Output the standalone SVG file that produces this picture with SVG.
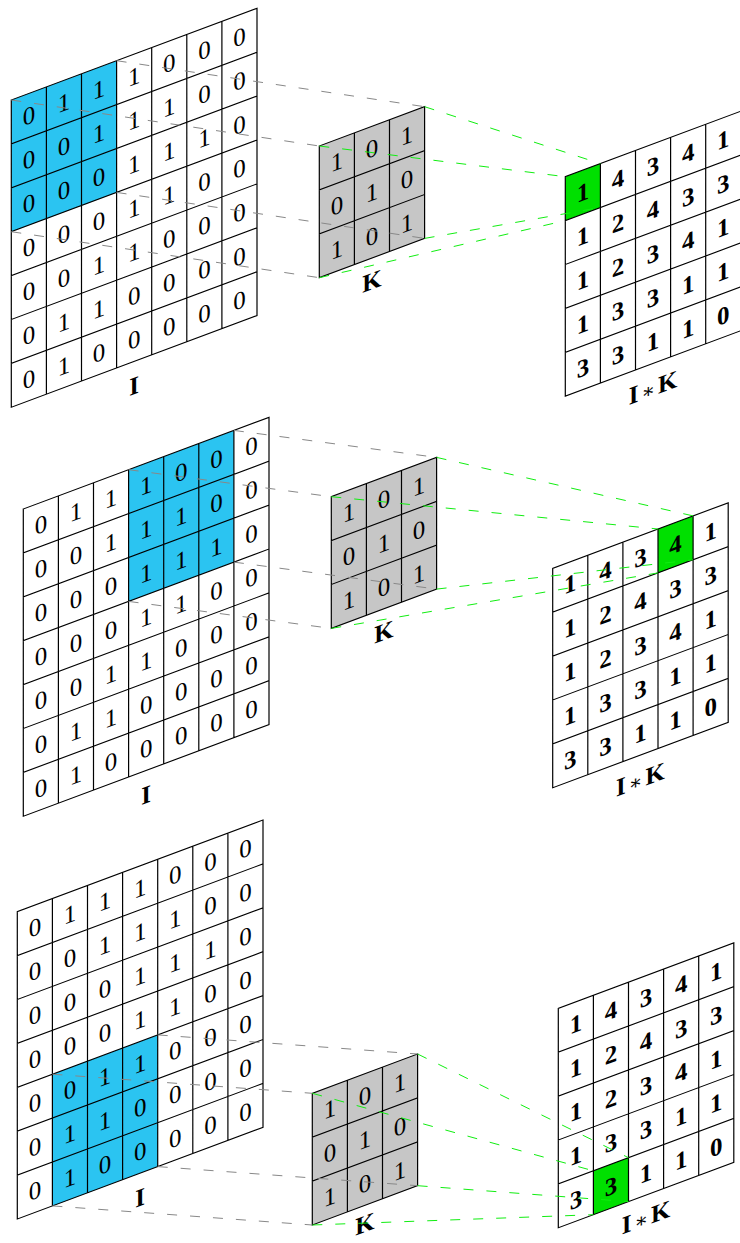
<svg xmlns="http://www.w3.org/2000/svg" xmlns:xlink="http://www.w3.org/1999/xlink" width="740" height="1243" viewBox="0 0 740 1243">
<style>
.w{fill:#ffffff}
.b{fill:#2bc4f1}
.k{fill:#c6c6c6}
.gr{fill:#00e000}
.ln{fill:none;stroke:#000;stroke-width:1.2}
text{font-family:"Liberation Serif","DejaVu Serif",serif;font-size:25px;text-anchor:middle;fill:#000}
.o{font-weight:bold}
.lbl{font-weight:bold;font-size:25px}
.op{font-weight:normal;font-size:20px}
.dg{stroke:#888888;stroke-width:1;stroke-dasharray:10 13;fill:none}
.dn{stroke:#11ee11;stroke-width:1;stroke-dasharray:10 13;fill:none}
</style>
<defs>
<path id="g7" class="ln" d="M0,0H245.7V307.3H0Z M35.1,0V307.3 M70.2,0V307.3 M105.3,0V307.3 M140.4,0V307.3 M175.5,0V307.3 M210.6,0V307.3 M0,43.9H245.7 M0,87.8H245.7 M0,131.7H245.7 M0,175.6H245.7 M0,219.5H245.7 M0,263.4H245.7"/>
<path id="g3" class="ln" d="M0,0H105.3V131.7H0Z M35.1,0V131.7 M70.2,0V131.7 M0,43.9H105.3 M0,87.8H105.3"/>
<path id="g5" class="ln" d="M0,0H175.5V219.5H0Z M35.1,0V219.5 M70.2,0V219.5 M105.3,0V219.5 M140.4,0V219.5 M0,43.9H175.5 M0,87.8H175.5 M0,131.7H175.5 M0,175.6H175.5"/>
</defs>

<!-- Panel 1 -->
<g id="I1" transform="translate(11.3,100) skewY(-20.47)">
<rect class="w" width="245.7" height="307.3"/>
<rect class="b" x="0" y="0" width="105.3" height="131.7"/>
<use href="#g7"/>
<text x="17.6" y="30.5">0</text><text x="52.7" y="30.5">1</text><text x="87.8" y="30.5">1</text><text x="122.9" y="30.5">1</text><text x="158" y="30.5">0</text><text x="193.1" y="30.5">0</text><text x="228.2" y="30.5">0</text>
<text x="17.6" y="74.4">0</text><text x="52.7" y="74.4">0</text><text x="87.8" y="74.4">1</text><text x="122.9" y="74.4">1</text><text x="158" y="74.4">1</text><text x="193.1" y="74.4">0</text><text x="228.2" y="74.4">0</text>
<text x="17.6" y="118.3">0</text><text x="52.7" y="118.3">0</text><text x="87.8" y="118.3">0</text><text x="122.9" y="118.3">1</text><text x="158" y="118.3">1</text><text x="193.1" y="118.3">1</text><text x="228.2" y="118.3">0</text>
<text x="17.6" y="162.2">0</text><text x="52.7" y="162.2">0</text><text x="87.8" y="162.2">0</text><text x="122.9" y="162.2">1</text><text x="158" y="162.2">1</text><text x="193.1" y="162.2">0</text><text x="228.2" y="162.2">0</text>
<text x="17.6" y="206.1">0</text><text x="52.7" y="206.1">0</text><text x="87.8" y="206.1">1</text><text x="122.9" y="206.1">1</text><text x="158" y="206.1">0</text><text x="193.1" y="206.1">0</text><text x="228.2" y="206.1">0</text>
<text x="17.6" y="250">0</text><text x="52.7" y="250">1</text><text x="87.8" y="250">1</text><text x="122.9" y="250">0</text><text x="158" y="250">0</text><text x="193.1" y="250">0</text><text x="228.2" y="250">0</text>
<text x="17.6" y="293.9">0</text><text x="52.7" y="293.9">1</text><text x="87.8" y="293.9">0</text><text x="122.9" y="293.9">0</text><text x="158" y="293.9">0</text><text x="193.1" y="293.9">0</text><text x="228.2" y="293.9">0</text>
<text class="lbl" x="122.9" y="340">I</text>
</g>

<g id="K1" transform="translate(319.3,146) skewY(-20.47)">
<rect class="k" width="105.3" height="131.7"/>
<use href="#g3"/>
<text x="17.6" y="30.5">1</text><text x="52.7" y="30.5">0</text><text x="87.8" y="30.5">1</text>
<text x="17.6" y="74.4">0</text><text x="52.7" y="74.4">1</text><text x="87.8" y="74.4">0</text>
<text x="17.6" y="118.3">1</text><text x="52.7" y="118.3">0</text><text x="87.8" y="118.3">1</text>
<text class="lbl" x="52.7" y="163">K</text>
</g>

<g id="O1" transform="translate(565.3,176.7) skewY(-20.47)">
<rect class="w" width="175.5" height="219.5"/>
<rect class="gr" x="0" y="0" width="35.1" height="43.9"/>
<use href="#g5"/>
<text class="o" x="17.6" y="30.5">1</text><text class="o" x="52.7" y="30.5">4</text><text class="o" x="87.8" y="30.5">3</text><text class="o" x="122.9" y="30.5">4</text><text class="o" x="158" y="30.5">1</text>
<text class="o" x="17.6" y="74.4">1</text><text class="o" x="52.7" y="74.4">2</text><text class="o" x="87.8" y="74.4">4</text><text class="o" x="122.9" y="74.4">3</text><text class="o" x="158" y="74.4">3</text>
<text class="o" x="17.6" y="118.3">1</text><text class="o" x="52.7" y="118.3">2</text><text class="o" x="87.8" y="118.3">3</text><text class="o" x="122.9" y="118.3">4</text><text class="o" x="158" y="118.3">1</text>
<text class="o" x="17.6" y="162.2">1</text><text class="o" x="52.7" y="162.2">3</text><text class="o" x="87.8" y="162.2">3</text><text class="o" x="122.9" y="162.2">1</text><text class="o" x="158" y="162.2">1</text>
<text class="o" x="17.6" y="206.1">3</text><text class="o" x="52.7" y="206.1">3</text><text class="o" x="87.8" y="206.1">1</text><text class="o" x="122.9" y="206.1">1</text><text class="o" x="158" y="206.1">0</text>
<text class="lbl" x="87.8" y="252">I<tspan class="op" dx="3">∗</tspan><tspan dx="3">K</tspan></text>
</g>

<!-- Panel 2 -->
<g id="I2" transform="translate(23.3,509) skewY(-20.47)">
<rect class="w" width="245.7" height="307.3"/>
<rect class="b" x="105.3" y="0" width="105.3" height="131.7"/>
<use href="#g7"/>
<text x="17.6" y="30.5">0</text><text x="52.7" y="30.5">1</text><text x="87.8" y="30.5">1</text><text x="122.9" y="30.5">1</text><text x="158" y="30.5">0</text><text x="193.1" y="30.5">0</text><text x="228.2" y="30.5">0</text>
<text x="17.6" y="74.4">0</text><text x="52.7" y="74.4">0</text><text x="87.8" y="74.4">1</text><text x="122.9" y="74.4">1</text><text x="158" y="74.4">1</text><text x="193.1" y="74.4">0</text><text x="228.2" y="74.4">0</text>
<text x="17.6" y="118.3">0</text><text x="52.7" y="118.3">0</text><text x="87.8" y="118.3">0</text><text x="122.9" y="118.3">1</text><text x="158" y="118.3">1</text><text x="193.1" y="118.3">1</text><text x="228.2" y="118.3">0</text>
<text x="17.6" y="162.2">0</text><text x="52.7" y="162.2">0</text><text x="87.8" y="162.2">0</text><text x="122.9" y="162.2">1</text><text x="158" y="162.2">1</text><text x="193.1" y="162.2">0</text><text x="228.2" y="162.2">0</text>
<text x="17.6" y="206.1">0</text><text x="52.7" y="206.1">0</text><text x="87.8" y="206.1">1</text><text x="122.9" y="206.1">1</text><text x="158" y="206.1">0</text><text x="193.1" y="206.1">0</text><text x="228.2" y="206.1">0</text>
<text x="17.6" y="250">0</text><text x="52.7" y="250">1</text><text x="87.8" y="250">1</text><text x="122.9" y="250">0</text><text x="158" y="250">0</text><text x="193.1" y="250">0</text><text x="228.2" y="250">0</text>
<text x="17.6" y="293.9">0</text><text x="52.7" y="293.9">1</text><text x="87.8" y="293.9">0</text><text x="122.9" y="293.9">0</text><text x="158" y="293.9">0</text><text x="193.1" y="293.9">0</text><text x="228.2" y="293.9">0</text>
<text class="lbl" x="122.9" y="340">I</text>
</g>

<g id="K2" transform="translate(331.3,496.7) skewY(-20.47)">
<rect class="k" width="105.3" height="131.7"/>
<use href="#g3"/>
<text x="17.6" y="30.5">1</text><text x="52.7" y="30.5">0</text><text x="87.8" y="30.5">1</text>
<text x="17.6" y="74.4">0</text><text x="52.7" y="74.4">1</text><text x="87.8" y="74.4">0</text>
<text x="17.6" y="118.3">1</text><text x="52.7" y="118.3">0</text><text x="87.8" y="118.3">1</text>
<text class="lbl" x="52.7" y="163">K</text>
</g>

<g id="O2" transform="translate(552.7,568.3) skewY(-20.47)">
<rect class="w" width="175.5" height="219.5"/>
<rect class="gr" x="105.3" y="0" width="35.1" height="43.9"/>
<use href="#g5"/>
<text class="o" x="17.6" y="30.5">1</text><text class="o" x="52.7" y="30.5">4</text><text class="o" x="87.8" y="30.5">3</text><text class="o" x="122.9" y="30.5">4</text><text class="o" x="158" y="30.5">1</text>
<text class="o" x="17.6" y="74.4">1</text><text class="o" x="52.7" y="74.4">2</text><text class="o" x="87.8" y="74.4">4</text><text class="o" x="122.9" y="74.4">3</text><text class="o" x="158" y="74.4">3</text>
<text class="o" x="17.6" y="118.3">1</text><text class="o" x="52.7" y="118.3">2</text><text class="o" x="87.8" y="118.3">3</text><text class="o" x="122.9" y="118.3">4</text><text class="o" x="158" y="118.3">1</text>
<text class="o" x="17.6" y="162.2">1</text><text class="o" x="52.7" y="162.2">3</text><text class="o" x="87.8" y="162.2">3</text><text class="o" x="122.9" y="162.2">1</text><text class="o" x="158" y="162.2">1</text>
<text class="o" x="17.6" y="206.1">3</text><text class="o" x="52.7" y="206.1">3</text><text class="o" x="87.8" y="206.1">1</text><text class="o" x="122.9" y="206.1">1</text><text class="o" x="158" y="206.1">0</text>
<text class="lbl" x="87.8" y="252">I<tspan class="op" dx="3">∗</tspan><tspan dx="3">K</tspan></text>
</g>

<!-- Panel 3 -->
<g id="I3" transform="translate(17.3,911.7) skewY(-20.47)">
<rect class="w" width="245.7" height="307.3"/>
<rect class="b" x="35.1" y="175.6" width="105.3" height="131.7"/>
<use href="#g7"/>
<text x="17.6" y="30.5">0</text><text x="52.7" y="30.5">1</text><text x="87.8" y="30.5">1</text><text x="122.9" y="30.5">1</text><text x="158" y="30.5">0</text><text x="193.1" y="30.5">0</text><text x="228.2" y="30.5">0</text>
<text x="17.6" y="74.4">0</text><text x="52.7" y="74.4">0</text><text x="87.8" y="74.4">1</text><text x="122.9" y="74.4">1</text><text x="158" y="74.4">1</text><text x="193.1" y="74.4">0</text><text x="228.2" y="74.4">0</text>
<text x="17.6" y="118.3">0</text><text x="52.7" y="118.3">0</text><text x="87.8" y="118.3">0</text><text x="122.9" y="118.3">1</text><text x="158" y="118.3">1</text><text x="193.1" y="118.3">1</text><text x="228.2" y="118.3">0</text>
<text x="17.6" y="162.2">0</text><text x="52.7" y="162.2">0</text><text x="87.8" y="162.2">0</text><text x="122.9" y="162.2">1</text><text x="158" y="162.2">1</text><text x="193.1" y="162.2">0</text><text x="228.2" y="162.2">0</text>
<text x="17.6" y="206.1">0</text><text x="52.7" y="206.1">0</text><text x="87.8" y="206.1">1</text><text x="122.9" y="206.1">1</text><text x="158" y="206.1">0</text><text x="193.1" y="206.1">0</text><text x="228.2" y="206.1">0</text>
<text x="17.6" y="250">0</text><text x="52.7" y="250">1</text><text x="87.8" y="250">1</text><text x="122.9" y="250">0</text><text x="158" y="250">0</text><text x="193.1" y="250">0</text><text x="228.2" y="250">0</text>
<text x="17.6" y="293.9">0</text><text x="52.7" y="293.9">1</text><text x="87.8" y="293.9">0</text><text x="122.9" y="293.9">0</text><text x="158" y="293.9">0</text><text x="193.1" y="293.9">0</text><text x="228.2" y="293.9">0</text>
<text class="lbl" x="122.9" y="340">I</text>
</g>

<g id="K3" transform="translate(312.3,1093.3) skewY(-20.47)">
<rect class="k" width="105.3" height="131.7"/>
<use href="#g3"/>
<text x="17.6" y="30.5">1</text><text x="52.7" y="30.5">0</text><text x="87.8" y="30.5">1</text>
<text x="17.6" y="74.4">0</text><text x="52.7" y="74.4">1</text><text x="87.8" y="74.4">0</text>
<text x="17.6" y="118.3">1</text><text x="52.7" y="118.3">0</text><text x="87.8" y="118.3">1</text>
<text class="lbl" x="52.7" y="158.5">K</text>
</g>

<g id="O3" transform="translate(558.3,1008.3) skewY(-20.47)">
<rect class="w" width="175.5" height="219.5"/>
<rect class="gr" x="35.1" y="175.6" width="35.1" height="43.9"/>
<use href="#g5"/>
<text class="o" x="17.6" y="30.5">1</text><text class="o" x="52.7" y="30.5">4</text><text class="o" x="87.8" y="30.5">3</text><text class="o" x="122.9" y="30.5">4</text><text class="o" x="158" y="30.5">1</text>
<text class="o" x="17.6" y="74.4">1</text><text class="o" x="52.7" y="74.4">2</text><text class="o" x="87.8" y="74.4">4</text><text class="o" x="122.9" y="74.4">3</text><text class="o" x="158" y="74.4">3</text>
<text class="o" x="17.6" y="118.3">1</text><text class="o" x="52.7" y="118.3">2</text><text class="o" x="87.8" y="118.3">3</text><text class="o" x="122.9" y="118.3">4</text><text class="o" x="158" y="118.3">1</text>
<text class="o" x="17.6" y="162.2">1</text><text class="o" x="52.7" y="162.2">3</text><text class="o" x="87.8" y="162.2">3</text><text class="o" x="122.9" y="162.2">1</text><text class="o" x="158" y="162.2">1</text>
<text class="o" x="17.6" y="206.1">3</text><text class="o" x="52.7" y="206.1">3</text><text class="o" x="87.8" y="206.1">1</text><text class="o" x="122.9" y="206.1">1</text><text class="o" x="158" y="206.1">0</text>
<text class="lbl" x="87.8" y="250">I<tspan class="op" dx="3">∗</tspan><tspan dx="3">K</tspan></text>
</g>

<g id="connectors">
<line class="dg" x1="11.3" y1="100" x2="319.3" y2="146"/>
<line class="dg" x1="116.6" y1="60.7" x2="424.6" y2="106.7"/>
<line class="dg" x1="11.3" y1="231.7" x2="319.3" y2="277.7"/>
<line class="dg" x1="116.6" y1="192.4" x2="424.6" y2="238.4"/>
<line class="dn" x1="319.3" y1="146" x2="565.3" y2="176.7"/>
<line class="dn" x1="424.6" y1="106.7" x2="600.4" y2="163.6"/>
<line class="dn" x1="319.3" y1="277.7" x2="565.3" y2="220.6"/>
<line class="dn" x1="424.6" y1="238.4" x2="600.4" y2="207.5"/>

<line class="dg" x1="128.6" y1="469.7" x2="331.3" y2="496.7"/>
<line class="dg" x1="233.9" y1="430.4" x2="436.6" y2="457.4"/>
<line class="dg" x1="128.6" y1="601.4" x2="331.3" y2="628.4"/>
<line class="dg" x1="233.9" y1="562.1" x2="436.6" y2="589.1"/>
<line class="dn" x1="331.3" y1="496.7" x2="658" y2="529"/>
<line class="dn" x1="436.6" y1="457.4" x2="693.1" y2="515.9"/>
<line class="dn" x1="331.3" y1="628.4" x2="658" y2="572.9"/>
<line class="dn" x1="436.6" y1="589.1" x2="693.1" y2="559.8"/>

<line class="dg" x1="52.4" y1="1074.2" x2="312.3" y2="1093.3"/>
<line class="dg" x1="157.7" y1="1034.9" x2="417.6" y2="1054"/>
<line class="dg" x1="52.4" y1="1205.9" x2="312.3" y2="1225"/>
<line class="dg" x1="157.7" y1="1166.6" x2="417.6" y2="1185.7"/>
<line class="dn" x1="312.3" y1="1093.3" x2="593.4" y2="1170.8"/>
<line class="dn" x1="417.6" y1="1054" x2="628.5" y2="1157.7"/>
<line class="dn" x1="312.3" y1="1225" x2="593.4" y2="1214.7"/>
<line class="dn" x1="417.6" y1="1185.7" x2="628.5" y2="1201.6"/>
</g>
</svg>
